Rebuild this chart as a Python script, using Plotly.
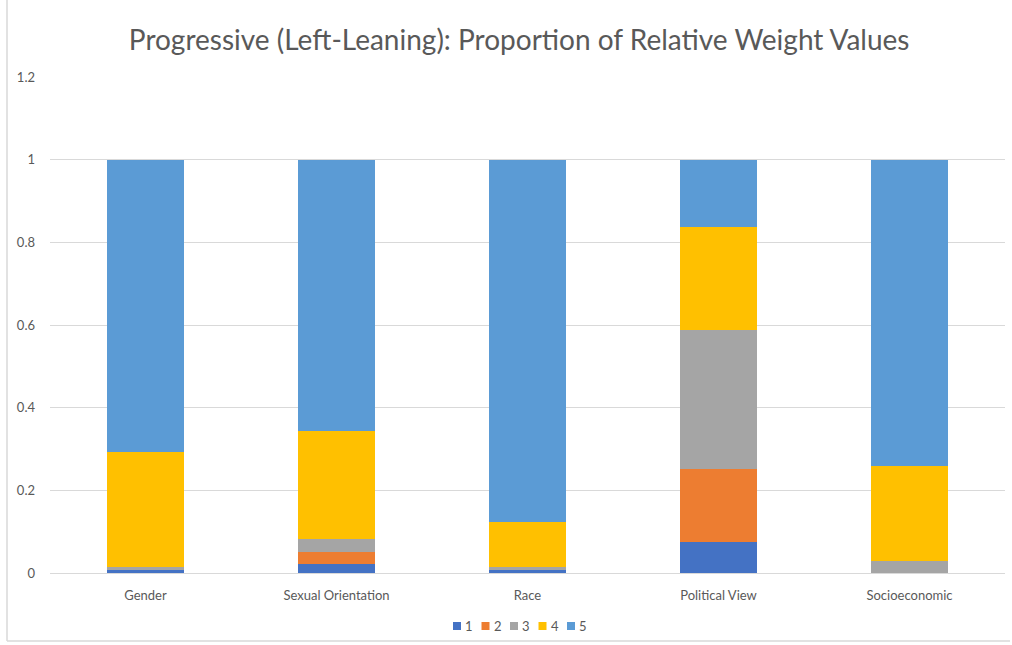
import plotly.graph_objects as go

# Share of each relative weight value (1-5) by attribute
categories = ["Gender", "Sexual Orientation", "Race", "Political View", "Socioeconomic"]
weight_labels = ["1", "2", "3", "4", "5"]
w1 = [0.007, 0.022, 0.007, 0.074, 0.000]
w2 = [0.000, 0.028, 0.000, 0.178, 0.000]
w3 = [0.007, 0.032, 0.007, 0.337, 0.029]
w4 = [0.278, 0.262, 0.109, 0.249, 0.231]
w5 = [0.708, 0.656, 0.877, 0.162, 0.740]
series = [w1, w2, w3, w4, w5]
colors = ["#4472C4", "#ED7D31", "#A5A5A5", "#FFC000", "#5B9BD5"]

y_ticks = [0, 0.2, 0.4, 0.6, 0.8, 1, 1.2]
y_tick_text = ["0", "0.2", "0.4", "0.6", "0.8", "1", "1.2"]

FONT = "Lato, 'Open Sans', sans-serif"
GREY_TEXT = "#595959"

W, H = 1012, 645
M_L, M_R, M_T, M_B = 50, 7, 77, 72
PLOT_W = W - M_L - M_R
PLOT_H = H - M_T - M_B


def px_to_paper_x(px):
    return (px - M_L) / PLOT_W


def px_to_paper_y(py):
    return (H - M_B - py) / PLOT_H


fig = go.Figure()
for name, vals, col in zip(weight_labels, series, colors):
    fig.add_trace(go.Bar(
        x=categories, y=vals, name=name,
        marker=dict(color=col, line=dict(width=0)),
        showlegend=False,
    ))

fig.update_layout(
    barmode="stack",
    bargap=0.6,
    width=W, height=H,
    margin=dict(l=M_L, r=M_R, t=M_T, b=M_B),
    paper_bgcolor="white",
    plot_bgcolor="white",
    font=dict(family=FONT, color=GREY_TEXT, size=13),
    title=dict(
        text="Progressive (Left-Leaning): Proportion of Relative Weight Values",
        x=0.513, xanchor="center", xref="container",
        y=0.938, yanchor="middle", yref="container",
        font=dict(size=28, color=GREY_TEXT, family=FONT),
    ),
    xaxis=dict(
        showgrid=False,
        showline=True, linecolor="#d9d9d9", linewidth=1,
        ticks="", ticklabelstandoff=10,
        tickfont=dict(size=13, color=GREY_TEXT),
    ),
    yaxis=dict(
        range=[0, 1.2],
        tickvals=y_ticks, ticktext=y_tick_text,
        showgrid=True, gridcolor="#d9d9d9", gridwidth=1,
        zeroline=False,
        showline=False,
        ticks="", ticklabelstandoff=14,
        tickfont=dict(size=13, color=GREY_TEXT),
    ),
)

# Compact legend row: small colour squares followed by the value labels
LEG_LEFT, LEG_STEP, LEG_Y, SQ = 453, 28.5, 626, 8
for i, (name, col) in enumerate(zip(weight_labels, colors)):
    left = LEG_LEFT + i * LEG_STEP
    fig.add_shape(
        type="rect", xref="paper", yref="paper",
        xsizemode="pixel", ysizemode="pixel",
        xanchor=px_to_paper_x(left), yanchor=px_to_paper_y(LEG_Y),
        x0=0, x1=SQ, y0=-SQ / 2, y1=SQ / 2,
        fillcolor=col, line=dict(width=0),
    )
    fig.add_annotation(
        text=name, xref="paper", yref="paper",
        x=px_to_paper_x(left + SQ + 2), y=px_to_paper_y(LEG_Y),
        xanchor="left", yanchor="middle", showarrow=False,
        font=dict(size=13, color=GREY_TEXT),
    )

# Chart frame (left and bottom edges)
frame = dict(type="line", xref="paper", yref="paper",
             line=dict(color="#d9d9d9", width=1.5))
fig.add_shape(**frame, x0=px_to_paper_x(7), x1=px_to_paper_x(7),
              y0=px_to_paper_y(641), y1=px_to_paper_y(0))
fig.add_shape(**frame, x0=px_to_paper_x(7), x1=px_to_paper_x(1010),
              y0=px_to_paper_y(641), y1=px_to_paper_y(641))

fig.write_html("out.html")
